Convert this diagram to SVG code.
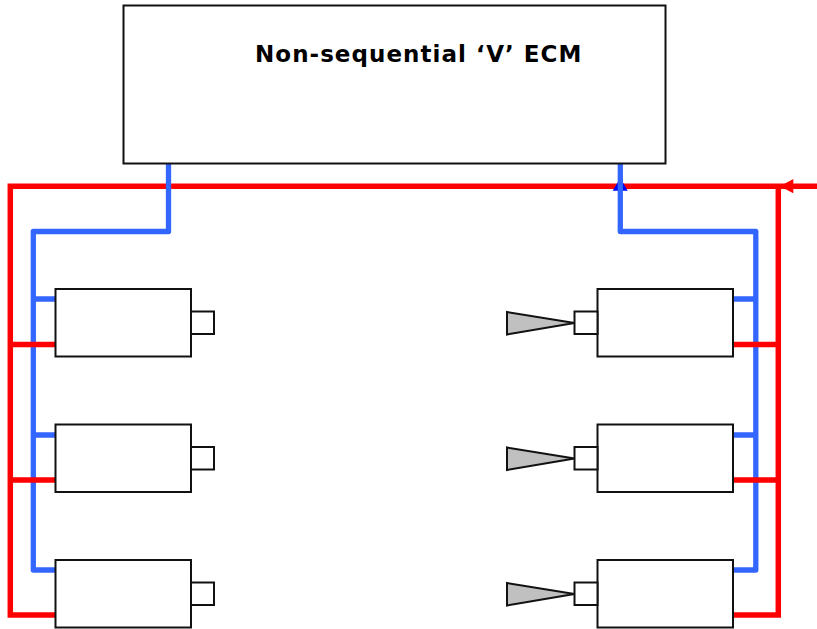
<svg xmlns="http://www.w3.org/2000/svg" width="817" height="629" viewBox="0 0 817 629">
<style>
.box{fill:#fff;stroke:#111;stroke-width:2}
.tip{fill:#c0c0c0;stroke:#111;stroke-width:2;stroke-linejoin:miter}
.blue{fill:none;stroke:#3366ff;stroke-width:5.300;stroke-linejoin:round}
.red{fill:none;stroke:#ff0000;stroke-width:5.500;stroke-linejoin:miter}
.title{font-family:"DejaVu Sans",Verdana,sans-serif;font-weight:700;font-size:23px;letter-spacing:1.04px;fill:#000}
</style>
<rect width="817" height="629" fill="#fff"/>
<g id="connectors">
<path class="red" d="M817 186.200H10.300V615H55"/>
<path class="red" d="M778.300 186.200V615H733"/>
<path d="M793.300 179L780 186.200L793.300 193.300Z" fill="#ff0000"/>
<path d="M612.700 190.700L620.300 178L627.700 190.700Z" fill="#0000ff"/>
<path class="blue" d="M168.500 163V231.500H33.300V570H55M33.300 299H55M33.300 435H55"/>
<path class="blue" d="M620.300 164V231.500H755.800V570H733M755.800 299H733M755.800 435H733"/>
<path class="red" d="M10.300 344.500H55M10.300 480H55"/>
<path class="red" d="M778.300 344.500H733M778.300 480H733"/>
</g>
<g id="ecm"><rect class="box" x="123.500" y="5.500" width="542" height="158"/>
<text class="title" x="255" y="62">Non-sequential ‘V’ ECM</text></g>
<g id="left-1"><rect class="box" x="55.500" y="289" width="135.500" height="67.500"/><rect class="box" x="191" y="311.500" width="23" height="22.500"/></g>
<g id="left-2"><rect class="box" x="55.500" y="424.500" width="135.500" height="67.500"/><rect class="box" x="191" y="447" width="23" height="22.500"/></g>
<g id="left-3"><rect class="box" x="55.500" y="560" width="135.500" height="67.500"/><rect class="box" x="191" y="582.500" width="23" height="22.500"/></g>
<g id="right-1"><rect class="box" x="597.500" y="289" width="135.500" height="67.500"/><rect class="box" x="574.500" y="311.500" width="23" height="22.500"/><path class="tip" d="M507 312L574.500 323L507 334.500Z"/></g>
<g id="right-2"><rect class="box" x="597.500" y="424.500" width="135.500" height="67.500"/><rect class="box" x="574.500" y="447" width="23" height="22.500"/><path class="tip" d="M507 447.500L574.500 458.500L507 470Z"/></g>
<g id="right-3"><rect class="box" x="597.500" y="560" width="135.500" height="67.500"/><rect class="box" x="574.500" y="582.500" width="23" height="22.500"/><path class="tip" d="M507 583L574.500 594L507 605.500Z"/></g>
</svg>
